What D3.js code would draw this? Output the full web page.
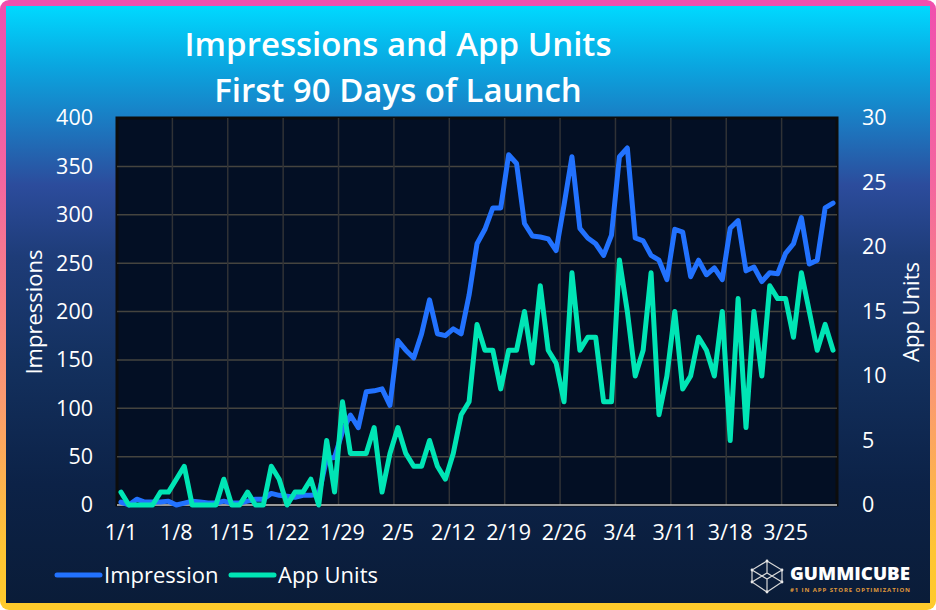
<!DOCTYPE html>
<html><head><meta charset="utf-8">
<script src="https://cdn.jsdelivr.net/npm/d3@7"></script>
<style>html,body{margin:0;padding:0;background:#fff}svg{display:block}
text{font-family:"Open Sans",sans-serif;fill:#fff}</style></head><body>
<svg id="c" width="936" height="610"></svg>
<script>
const categories=["1/1","1/2","1/3","1/4","1/5","1/6","1/7","1/8","1/9","1/10","1/11","1/12","1/13","1/14","1/15","1/16","1/17","1/18","1/19","1/20","1/21","1/22","1/23","1/24","1/25","1/26","1/27","1/28","1/29","1/30","1/31",
"2/1","2/2","2/3","2/4","2/5","2/6","2/7","2/8","2/9","2/10","2/11","2/12","2/13","2/14","2/15","2/16","2/17","2/18","2/19","2/20","2/21","2/22","2/23","2/24","2/25","2/26","2/27","2/28","2/29",
"3/1","3/2","3/3","3/4","3/5","3/6","3/7","3/8","3/9","3/10","3/11","3/12","3/13","3/14","3/15","3/16","3/17","3/18","3/19","3/20","3/21","3/22","3/23","3/24","3/25","3/26","3/27","3/28","3/29","3/30","3/31"];
const impressions=[3,0,6,3,3,3,4,0,2,4,3,2,2,4,2,2,4,6,6,12,10,9,8,10,10,11,48,49,76,93,80,117,118,120,103,170,
160,152,177,212,177,175,182,177,217,270,285,307,307,362,353,291,278,277,275,263,310,360,286,276,270,258,279,360,369,276,
273,258,253,233,285,282,236,253,238,245,233,286,294,242,246,231,240,239,260,270,297,249,253,307,312];
const appUnits=[1,0,0,0,0,1,1,2,3,0,0,0,0,2,0,0,1,0,0,3,2,0,1,1,2,0,5,1,8,4,4,4,6,1,4,6,
4,3,3,5,3,2,4,7,8,14,12,12,9,12,12,15,11,17,12,11,8,18,12,13,13,8,8,19,15,10,
12,18,7,10,15,9,10,13,12,10,15,5,16,6,15,10,17,16,16,13,18,15,12,14,12];
const xTickLabels=["1/1","1/8","1/15","1/22","1/29","2/5","2/12","2/19","2/26","3/4","3/11","3/18","3/25"];
const leftTicks=[0,50,100,150,200,250,300,350,400];
const rightTicks=[0,5,10,15,20,25,30];
const titleLines=["Impressions and App Units","First 90 Days of Launch"];

const svg=d3.select("#c");
const defs=svg.append("defs");
function grad(id,stops){const g=defs.append("linearGradient").attr("id",id).attr("x1",0).attr("y1",0).attr("x2",0).attr("y2",1);
 stops.forEach(s=>g.append("stop").attr("offset",s[0]).attr("stop-color",s[1]));}
grad("border",[[0,"#f04fae"],[0.3,"#f4669f"],[0.65,"#fb9a70"],[0.9,"#ffc533"],[1,"#ffcb2b"]]);
grad("panel",[[0,"#00d9ff"],[0.1,"#0aa6e0"],[0.2,"#1c78c0"],[0.3,"#2c4c9c"],[0.42,"#1e3c78"],[0.6,"#13305e"],[0.8,"#0c2247"],[1,"#0a1c38"]]);
svg.append("rect").attr("width",936).attr("height",610).attr("rx",9).attr("fill","url(#border)");
svg.append("rect").attr("x",6).attr("y",6).attr("width",924).attr("height",597).attr("fill","url(#panel)");

const m={l:117,r:837,t:118,b:505};
const x=d3.scaleBand().domain(categories).range([m.l,m.r]);
const yL=d3.scaleLinear().domain([0,400]).range([m.b,m.t]);
const yR=d3.scaleLinear().domain([0,30]).range([m.b,m.t]);

svg.append("rect").attr("x",m.l).attr("y",m.t).attr("width",m.r-m.l).attr("height",m.b-m.t)
 .attr("fill","#030f24").attr("stroke","#0c0c0c").attr("stroke-width",3);

const grid=svg.append("g");
grid.selectAll("line.h").data(leftTicks.slice(1,-1)).join("line").attr("class","h")
 .attr("x1",m.l).attr("x2",m.r).attr("y1",d=>yL(d)).attr("y2",d=>yL(d)).attr("stroke","#45443f").attr("stroke-width",1.5);
grid.selectAll("line.v").data(xTickLabels.slice(1)).join("line").attr("class","v")
 .attr("x1",d=>x(d)).attr("x2",d=>x(d)).attr("y1",m.t).attr("y2",m.b).attr("stroke","#303236").attr("stroke-width",1.5);
svg.append("line").attr("x1",m.l).attr("x2",m.r).attr("y1",m.b).attr("y2",m.b).attr("stroke","#c8c8c8").attr("stroke-width",1.5);

const axL=svg.append("g").attr("transform",`translate(${m.l},0)`).call(d3.axisLeft(yL).tickValues(leftTicks).tickSize(0).tickPadding(24));
const axR=svg.append("g").attr("transform",`translate(${m.r},0)`).call(d3.axisRight(yR).tickValues(rightTicks).tickSize(0).tickPadding(25));
const axB=svg.append("g").attr("transform",`translate(0,${m.b})`).call(d3.axisBottom(x).tickValues(xTickLabels).tickSize(0).tickPadding(20));
[axL,axR,axB].forEach(a=>{a.select(".domain").remove();a.selectAll("text").style("font-size","21.5px").style("font-family",'"Open Sans",sans-serif').attr("fill","#fff");});

const lineI=d3.line().x((d,i)=>x(categories[i])+x.bandwidth()/2).y(d=>yL(d));
const lineU=d3.line().x((d,i)=>x(categories[i])+x.bandwidth()/2).y(d=>yR(d));
svg.append("path").attr("d",lineI(impressions)).attr("fill","none").attr("stroke","#2272ff").attr("stroke-width",5).attr("stroke-linejoin","round").attr("stroke-linecap","round");
svg.append("path").attr("d",lineU(appUnits)).attr("fill","none").attr("stroke","#00e5b5").attr("stroke-width",5).attr("stroke-linejoin","round").attr("stroke-linecap","round");

svg.selectAll("text.title").data(titleLines).join("text").attr("class","title")
 .attr("x",398).attr("y",(d,i)=>56+i*46).attr("text-anchor","middle")
 .style("font-size","33px").style("font-weight",600).text(d=>d);

svg.append("text").attr("transform","translate(42,312) rotate(-90)").attr("text-anchor","middle").style("font-size","22px").text("Impressions");
svg.append("text").attr("transform","translate(919,312) rotate(-90)").attr("text-anchor","middle").style("font-size","22px").text("App Units");

const legend=[["Impression","#2272ff",57],["App Units","#00e5b5",231]];
const lg=svg.selectAll("g.lg").data(legend).join("g").attr("class","lg");
lg.append("line").attr("x1",d=>d[2]).attr("x2",d=>d[2]+43).attr("y1",575).attr("y2",575).attr("stroke",d=>d[1]).attr("stroke-width",5).attr("stroke-linecap","round");
lg.append("text").attr("x",d=>d[2]+47).attr("y",583).style("font-size","22px").text(d=>d[0]);

// logo
const logo=svg.append("g").attr("transform","translate(751,560)").attr("fill","none").attr("stroke","#d8d8d8").attr("stroke-width",1.2);
logo.append("path").attr("d","M16 1 L31 10 L31 22 L16 32 L1 22 L1 10 Z M1 10 L16 19 L31 10 M16 19 L16 32 M16 1 L16 13 M1 22 L16 13 L31 22");
logo.selectAll("circle").data([[16,1],[31,10],[31,22],[16,32],[1,22],[1,10]]).join("circle")
 .attr("cx",d=>d[0]).attr("cy",d=>d[1]).attr("r",1.4).attr("fill","#e8e8e8").attr("stroke","none");
svg.append("text").attr("x",790).attr("y",580).style("font-size","18px").style("font-weight",800).attr("textLength",120).attr("lengthAdjust","spacingAndGlyphs").text("GUMMICUBE");
svg.append("text").attr("x",790).attr("y",591.5).style("font-size","6px").style("font-weight",700).style("fill","#e09a3a").attr("textLength",120).text("#1 IN APP STORE OPTIMIZATION");
</script></body></html>
